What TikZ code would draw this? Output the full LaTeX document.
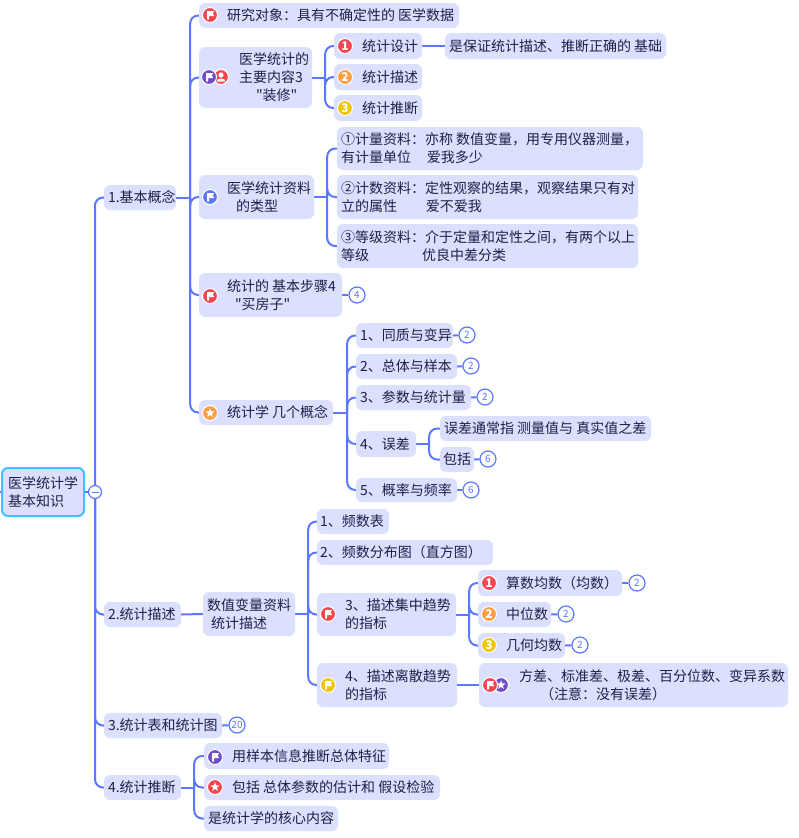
\documentclass[tikz,border=0pt]{standalone}
\usepackage{fontspec}
\setmainfont{Noto Sans CJK SC}
\newfontfamily\plainf{Noto Sans CJK SC}
\usetikzlibrary{shapes.geometric,backgrounds}
\definecolor{boxfill}{HTML}{DAE0FD}
\definecolor{inkc}{HTML}{20204A}
\definecolor{linec}{HTML}{5B78FF}
\definecolor{rootb}{HTML}{3FC1FF}
\definecolor{icred}{HTML}{F5454F}
\definecolor{icorg}{HTML}{FF9D42}
\definecolor{icyel}{HTML}{F0C30C}
\definecolor{icpur}{HTML}{6E4FC7}
\definecolor{icblu}{HTML}{5B78F0}
\newcounter{icn}
\tikzset{
  boxn/.style={fill=boxfill,rounded corners=6pt,inner sep=0pt,text=inkc,font=\fontsize{14}{18}\selectfont},
  rootn/.style={boxn,draw=rootb,line width=2pt},
  badgen/.style={circle,draw=linec,fill=white,line width=1.2pt,minimum size=16pt,inner sep=0pt,text=linec,font=\fontsize{10}{10}\selectfont},
  colln/.style={circle,draw=linec,fill=white,line width=1.2pt,minimum size=13pt,inner sep=0pt},
  conn/.style={draw=linec,line width=2pt,rounded corners=8pt},
  icdisc/.style={circle,draw=white,line width=1pt,minimum size=15pt,inner sep=0pt,text=white,font=\fontsize{12}{12}\selectfont\bfseries}
}
% name, x0, y0, x1, y1, text x, content
\newcommand{\bx}[8][boxn]{%
  \pgfmathsetmacro{\bW}{#5-#3}\pgfmathsetmacro{\bH}{#6-#4}%
  \pgfmathsetmacro{\bX}{(#3+#5)/2}\pgfmathsetmacro{\bY}{(#4+#6)/2}%
  \pgfmathsetmacro{\bL}{#7-#3}\pgfmathsetmacro{\bT}{#5-#7}%
  \node[#1,minimum width=\bW pt,minimum height=\bH pt] (#2) at (\bX,\bY)
    {\hbox to \bW pt{\hspace{\bL pt}\parbox[c]{\bT pt}{\raggedright\fontsize{14}{18}\selectfont\rule{0pt}{13pt}#8\rule[-3pt]{0pt}{3pt}}\hss}};%
}
\newcommand{\qq}[1]{{\plainf"}#1{\plainf"}}
\newcommand{\disc}[3]{\stepcounter{icn}\node[icdisc,fill=#3] (ic\theicn) at (#1,#2) {};}
\newcommand{\flagi}[3]{\disc{#1}{#2}{#3}\fill[white,rounded corners=0.4pt,shift={(#1,#2)}] (-3,-4) -- (4.2,-4) -- (2.8,-1.5) -- (4.2,1) -- (-1,1) -- (-1,4.5) -- (-3,4.5) -- cycle;}
\newcommand{\stari}[3]{\disc{#1}{#2}{#3}\stepcounter{icn}\node[star,star points=5,star point ratio=2.4,fill=white,minimum size=9.5pt,inner sep=0pt] (ic\theicn) at (#1,#2) {};}
\newcommand{\numi}[4]{\stepcounter{icn}\node[icdisc,fill=#3] (ic\theicn) at (#1,#2) {#4};}
\newcommand{\persi}[3]{\disc{#1}{#2}{#3}\fill[white,shift={(#1,#2)}] (0,-2) circle (2.6) (-4.5,4.5) .. controls (-4.5,0.5) and (4.5,0.5) .. (4.5,4.5) -- cycle;}
\newcommand{\badge}[4]{\node[badgen] (#1) at (#2,#3) {#4};}
% from-node, gap, list of children
\newcommand{\fork}[3]{%
  \draw[conn] (#1.east) -- ++(#2,0) coordinate (fk#1);
  \foreach \t in {#3} \draw[conn] (fk#1) |- (\t.west);}
\begin{document}
\begin{tikzpicture}[x=1pt,y=-1pt]
\useasboundingbox (0,0) rectangle (799,838);
% root and first level
\bx[rootn]{root}{2}{468}{84}{516}{8}{医学统计学\\基本知识}
\node[colln] (col) at (95,492) {};
\coordinate (stub) at (0,492);
\bx{bA}{104}{185}{176}{210}{108}{1.基本概念}
\bx{bB}{104}{602}{181}{627}{108}{2.统计描述}
\bx{bC}{104}{713}{222}{738}{108}{3.统计表和统计图}
\bx{bD}{104}{775}{181}{800}{108}{4.统计推断}
\badge{bgC}{237}{725}{20}
% branch 1
\bx{aA}{199}{3}{459}{28}{227}{研究对象：具有不确定性的 医学数据}
\bx{aB}{199}{47}{312}{108}{239}{医学统计的\\主要内容3\\\hspace*{17pt}\qq{装修}}
\bx{aC}{199}{175}{314}{219}{227}{医学统计资料\\\hspace*{9pt}的类型}
\bx{aD}{199}{273}{342}{317}{227}{统计的 基本步骤4\\\hspace*{8pt}\qq{买房子}}
\bx{aE}{199}{400}{333}{425}{227}{统计学 几个概念}
\badge{bgD}{357}{295}{4}
\bx{eA}{334}{33}{422}{59}{362}{统计设计}
\bx{eB}{334}{64}{422}{90}{362}{统计描述}
\bx{eC}{334}{95}{422}{121}{362}{统计推断}
\bx{eD}{445}{33}{666}{59}{449}{是保证统计描述、推断正确的 基础}
\bx{fA}{337}{127}{643}{170}{341}{①计量资料：亦称 数值变量，用专用仪器测量，\\有计量单位\hspace{16pt}爱我多少}
\bx{fB}{337}{175}{638}{219}{341}{②计数资料：定性观察的结果，观察结果只有对\\立的属性\hspace{29pt}爱不爱我}
\bx{fC}{337}{224}{638}{268}{341}{③等级资料：介于定量和定性之间，有两个以上\\等级\hspace{53pt}优良中差分类}
\bx{gA}{356}{323}{453}{348}{360}{1、同质与变异}
\bx{gB}{356}{354}{457}{379}{360}{2、总体与样本}
\bx{gC}{356}{385}{471}{410}{360}{3、参数与统计量}
\bx{gD}{356}{431}{416}{457}{360}{4、误差}
\bx{gE}{356}{478}{457}{502}{360}{5、概率与频率}
\badge{bgGA}{467}{335}{2}
\badge{bgGB}{471}{366}{2}
\badge{bgGC}{485}{397}{2}
\badge{bgGE}{471}{490}{6}
\bx{hA}{440}{416}{651}{441}{444}{误差通常指 测量值与 真实值之差}
\bx{hB}{440}{447}{474}{472}{443}{包括}
\badge{bgHB}{488}{459}{6}
% branch 2
\bx{jA}{203}{592}{295}{636}{207}{数值变量资料\\\hspace*{4pt}统计描述}
\bx{kA}{317}{509}{389}{534}{320}{1、频数表}
\bx{kB}{317}{540}{493}{565}{320}{2、频数分布图（直方图）}
\bx{kC}{317}{593}{456}{636}{345}{3、描述集中趋势\\的指标}
\bx{kD}{317}{663}{457}{707}{345}{4、描述离散趋势\\的指标}
\bx{mA}{478}{570}{622}{596}{506}{算数均数（均数）}
\bx{mB}{478}{602}{551}{627}{506}{中位数}
\bx{mC}{478}{633}{565}{658}{506}{几何均数}
\bx{mD}{479}{663}{788}{707}{519}{方差、标准差、极差、百分位数、变异系数\\\hspace*{21pt}（注意：没有误差）}
\badge{bgMA}{637}{583}{2}
\badge{bgMB}{566}{614}{2}
\badge{bgMC}{580}{645}{2}
% branch 4
\bx{nA}{204}{743}{389}{769}{232}{用样本信息推断总体特征}
\bx{nB}{204}{775}{440}{800}{232}{包括 总体参数的估计和 假设检验}
\bx{nC}{204}{806}{338}{831}{208}{是统计学的核心内容}
% icons
\flagi{210}{15}{icred}
\persi{221}{77}{icred}
\flagi{209}{77}{icpur}
\flagi{210}{197}{icblu}
\flagi{210}{296}{icred}
\stari{210}{413}{icorg}
\numi{345}{46}{icred}{1}
\numi{345}{77}{icorg}{2}
\numi{345}{108}{icyel}{3}
\flagi{328}{614}{icred}
\flagi{328}{685}{icyel}
\numi{489}{583}{icred}{1}
\numi{489}{614}{icorg}{2}
\numi{489}{645}{icyel}{3}
\stari{501}{685}{icpur}
\flagi{490}{685}{icred}
\flagi{215}{757}{icpur}
\stari{215}{787}{icred}
% collapse minus
\draw[linec,line width=1pt] ([xshift=-3.5pt]col.center) -- ([xshift=3.5pt]col.center);
% connectors
\begin{scope}[on background layer]
\draw[conn] (stub) -- (root.west);
\draw[conn] (root.east) -- (col.center);
\foreach \t in {bA,bB,bC,bD} \draw[conn] (col.center) |- (\t.west);
\fork{bA}{14}{aA,aB,aC,aD,aE}
\fork{aB}{13}{eA,eB,eC}
\draw[conn] (eA.east) -- (eD.west);
\fork{aC}{13}{fA,fB,fC}
\fork{aE}{14}{gA,gB,gC,gD,gE}
\fork{gD}{13}{hA,hB}
\draw[conn] (bB.east) -- (jA.west);
\fork{jA}{13}{kA,kB,kC,kD}
\fork{kC}{13}{mA,mB,mC}
\draw[conn] (kD.east) -- (mD.west);
\fork{bD}{13}{nA,nB,nC}
\draw[conn] (bC.east) -- (bgC);
\draw[conn] (aD.east) -- (bgD);
\draw[conn] (gA.east) -- (bgGA);
\draw[conn] (gB.east) -- (bgGB);
\draw[conn] (gC.east) -- (bgGC);
\draw[conn] (gE.east) -- (bgGE);
\draw[conn] (hB.east) -- (bgHB);
\draw[conn] (mA.east) -- (bgMA);
\draw[conn] (mB.east) -- (bgMB);
\draw[conn] (mC.east) -- (bgMC);
\end{scope}
\end{tikzpicture}
\end{document}
